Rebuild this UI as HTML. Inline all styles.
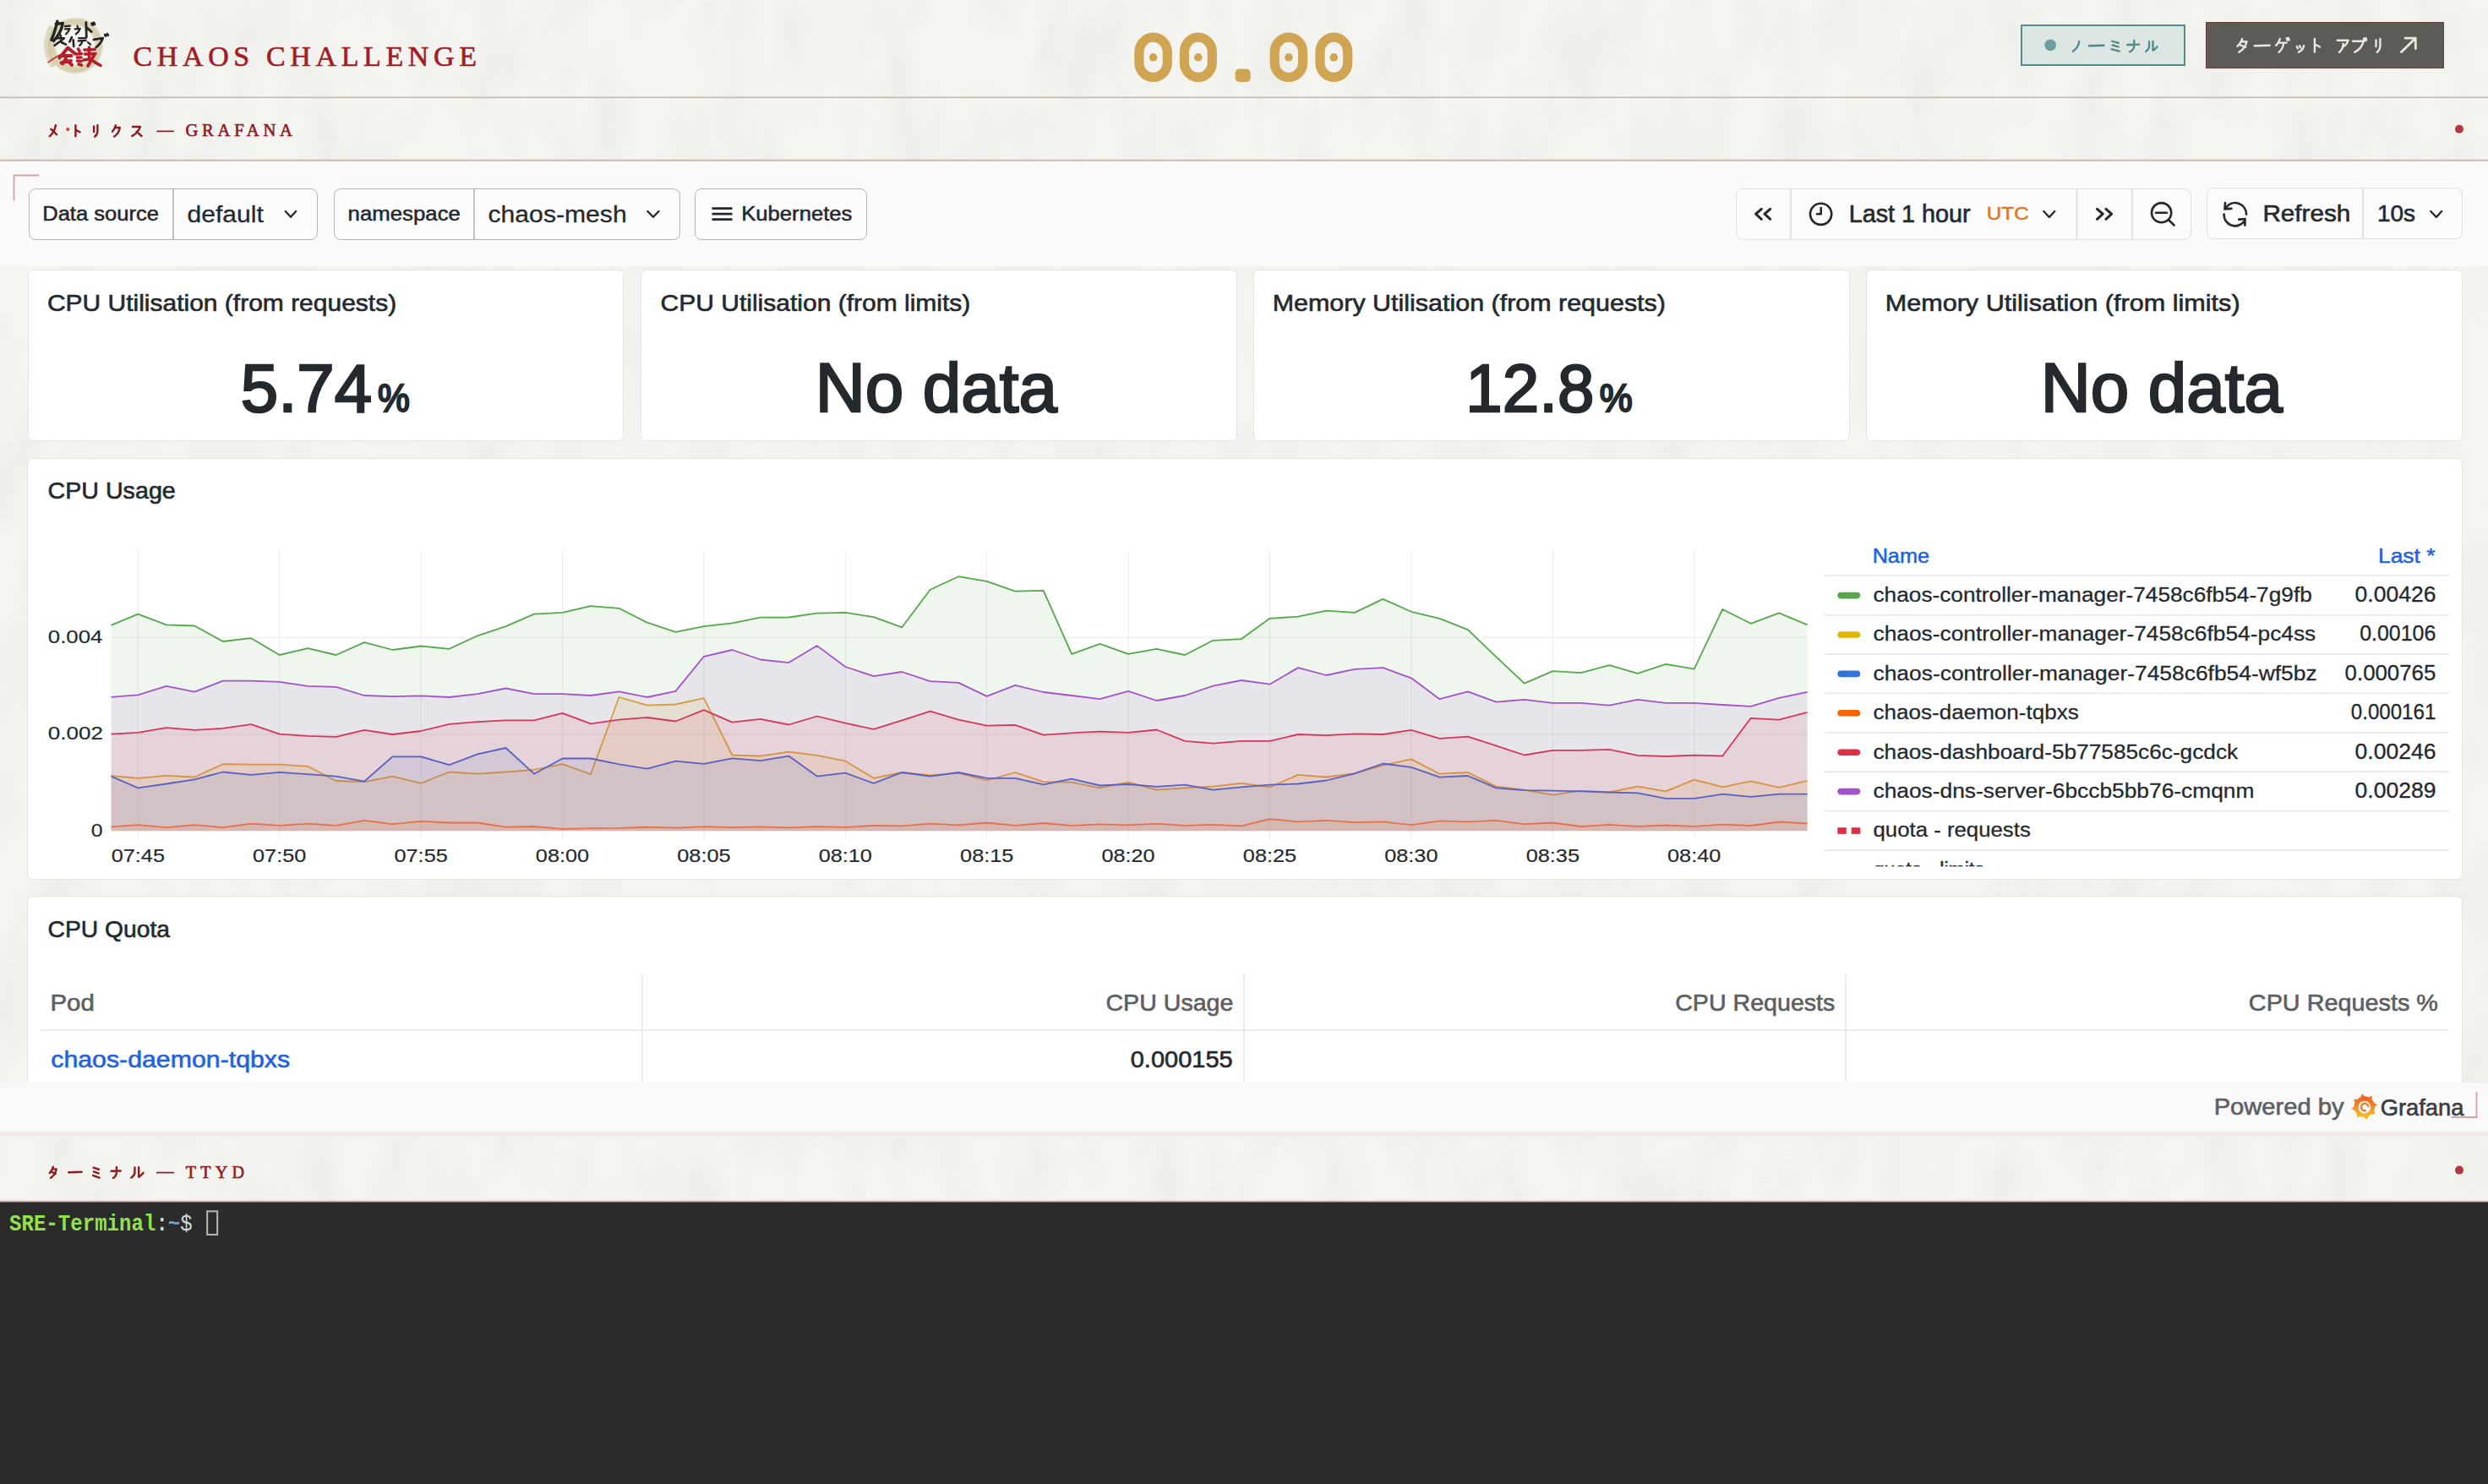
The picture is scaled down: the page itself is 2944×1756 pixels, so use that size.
<!DOCTYPE html>
<html lang="en"><head><meta charset="utf-8"><title>Chaos Challenge</title>
<style>
html,body{margin:0;padding:0}
body{width:2944px;height:1756px;overflow:hidden;position:relative;background:#f4f4f0;font-family:"Liberation Sans",sans-serif}
#ov{position:absolute;left:0;top:0}
</style></head><body>
<svg width="2944" height="1756" style="position:absolute;left:0;top:0"><filter id="paper" x="0" y="0" width="100%" height="100%" filterUnits="userSpaceOnUse"><feTurbulence type="fractalNoise" baseFrequency="0.02 0.008" numOctaves="5" seed="11"/><feColorMatrix values="0 0 0 0 0.45  0 0 0 0 0.45  0 0 0 0 0.43  1.2 0 0 0 -0.45"/></filter><rect x="0" y="0" width="2944" height="1756" filter="url(#paper)" opacity="0.16"/></svg>
<div style="position:absolute;left:0.0px;top:0.0px;width:2944.0px;height:115.0px;background:transparent"></div>
<div style="position:absolute;left:0.0px;top:190.6px;width:2944.0px;height:124.9px;background:#fafafa"></div>
<div style="position:absolute;left:0.0px;top:1280.5px;width:2944.0px;height:58.5px;background:#f9f9f9"></div>
<div style="position:absolute;left:0.0px;top:1339.0px;width:2944.0px;height:7.0px;background:linear-gradient(#f3e7e5,#f4f1ee)"></div>
<div style="position:absolute;left:0.0px;top:1422.4px;width:2944.0px;height:333.6px;background:#2b2b2b"></div>
<div style="position:absolute;left:2390.7px;top:28.5px;width:194.9px;height:49.5px;box-sizing:border-box;border:2.2px solid #4f8e8f;background:#dde6e3"></div>
<div style="position:absolute;left:2610.0px;top:26.4px;width:282.0px;height:54.3px;box-sizing:border-box;border:1.6px solid #6a3d3d;background:#5c5b58"></div>
<div style="position:absolute;left:34.0px;top:222.5px;width:342.0px;height:61.5px;box-sizing:border-box;border:1.6px solid #b4b4b4;border-radius:8px;background:#fbfbfb"></div>
<div style="position:absolute;left:395.2px;top:222.5px;width:410.2px;height:61.5px;box-sizing:border-box;border:1.6px solid #b4b4b4;border-radius:8px;background:#fbfbfb"></div>
<div style="position:absolute;left:822.3px;top:222.5px;width:203.7px;height:61.5px;box-sizing:border-box;border:1.6px solid #b4b4b4;border-radius:8px;background:#fbfbfb"></div>
<div style="position:absolute;left:2054.0px;top:222.8px;width:539.2px;height:61.0px;box-sizing:border-box;border:1.6px solid #dedede;border-radius:8px;background:#fbfbfb"></div>
<div style="position:absolute;left:2610.7px;top:222.4px;width:303.6px;height:60.8px;box-sizing:border-box;border:1.6px solid #dedede;border-radius:8px;background:#fbfbfb"></div>
<div style="position:absolute;left:32.5px;top:318.9px;width:705.8px;height:203.1px;box-sizing:border-box;border:1.4px solid #e4e4e4;border-radius:7px;background:#fff"></div>
<div style="position:absolute;left:758.2px;top:318.9px;width:705.8px;height:203.1px;box-sizing:border-box;border:1.4px solid #e4e4e4;border-radius:7px;background:#fff"></div>
<div style="position:absolute;left:1483.2px;top:318.9px;width:705.8px;height:203.1px;box-sizing:border-box;border:1.4px solid #e4e4e4;border-radius:7px;background:#fff"></div>
<div style="position:absolute;left:2208.2px;top:318.9px;width:705.8px;height:203.1px;box-sizing:border-box;border:1.4px solid #e4e4e4;border-radius:7px;background:#fff"></div>
<div style="position:absolute;left:32.0px;top:541.8px;width:2882.0px;height:498.8px;box-sizing:border-box;border:1.4px solid #e4e4e4;border-radius:7px;background:#fff"></div>
<div style="position:absolute;left:32.0px;top:1060.0px;width:2882.0px;height:220.5px;box-sizing:border-box;border:1.4px solid #e4e4e4;border-bottom:none;border-radius:7px 7px 0 0;background:#fff"></div>
<svg id="ov" width="2944" height="1756" viewBox="0 0 2944 1756">
<rect x="0" y="114.5" width="2944" height="1.6" fill="#d8b0ac"/>
<rect x="0" y="188.8" width="2944" height="1.8" fill="#d6aeb0"/>
<rect x="0" y="1420.6" width="2944" height="1.8" fill="#d9b5b5"/>
<defs><radialGradient id="lg" cx="0.5" cy="0.5" r="0.5"><stop offset="0.6" stop-color="#f5f4ee" stop-opacity="0"/><stop offset="0.74" stop-color="#d2cba6" stop-opacity="0.85"/><stop offset="0.92" stop-color="#cfc7a0" stop-opacity="0.8"/><stop offset="1" stop-color="#d8d2b4" stop-opacity="0"/></radialGradient></defs>
<g>
<circle cx="88.8" cy="54" r="34" fill="url(#lg)"/>
<path d="M62 76 Q50 56 60 34" stroke="#c8c09a" stroke-width="7" fill="none" opacity="0.5" stroke-linecap="round"/>
<g stroke="#26221f" fill="none" stroke-linecap="round" stroke-linejoin="round">
<path d="M67.8 25.2 Q65 38 60.8 47.3 M66.2 28.5 L74.3 27.4 Q72 40 63.5 48.4" stroke-width="3.4"/>
<path d="M77 31.2 L82.9 30.6 M77 34.4 L82.5 34.2 Q81 38 78 40.3" stroke-width="2.2"/>
<path d="M91.5 30.6 L91.8 32.4 M88.8 34.4 L94.7 33.9 Q93.5 38 89.9 40.3" stroke-width="2.2"/>
<path d="M101.8 26.3 L102.3 44.1 M102.8 32.8 L108.2 37.6 M108.6 27.6 L109.6 29.6 M111 26.8 L112 28.8" stroke-width="2.8"/>
<path d="M71.6 41.8 L72 43 M66.2 45.2 L75.9 45.2 L64.6 53.8 M72.6 50 L78 52.7" stroke-width="2.6"/>
<path d="M85 44.1 L82.3 49.5 M86.7 47.3 L87.2 54.9" stroke-width="2.6"/>
<path d="M93.1 45.2 L101.2 45.2 M92.6 48.4 L101.8 47.9 M97.4 48.4 Q97 52 94.2 53.8 M103.9 50 L107.1 52.7" stroke-width="2.2"/>
<path d="M110.9 46.8 L121.7 45.2 Q119 52 113.6 56 M124.2 41 L125 42.6 M127 40.2 L127.8 41.8" stroke-width="2.8"/>
</g>
<g stroke="#b51e29" fill="none" stroke-linecap="round" stroke-linejoin="round">
<path d="M80.2 56.5 L70.5 68.5 M80.2 56.5 L88.8 63.5 M75 66 L84.5 66 M72.6 74.3 L84 72 M78 69 L74 75.5 M80 72 L85 76.8" stroke-width="4"/>
<path d="M92.5 58 L94 60.5 M91 64 L96.5 63.5 M91.5 68 L96 68 M91.5 72 L96 72.5 M93 76 L96.5 77 M100 59 L112 58.5 M100.5 64 L113 63.5 M105.5 56 L105.5 70 M99 71 Q106 69 110 72 Q114 75 119 77.5 M112 64 L104 78" stroke-width="3.6"/>
</g>
<path d="M56.5 74.3 Q67 66 78 62" stroke="#b51e29" stroke-width="1.4" fill="none"/>
</g>
<rect x="1347.9" y="44.2" width="33.4" height="47.2" rx="16.7" ry="17.5" fill="none" stroke="#cfa553" stroke-width="11.2"/>
<circle cx="1364.6" cy="67.8" r="4.8" fill="#cfa553"/>
<rect x="1401.4" y="44.2" width="32.9" height="47.2" rx="16.5" ry="17.3" fill="none" stroke="#cfa553" stroke-width="11.2"/>
<circle cx="1417.8" cy="67.8" r="4.8" fill="#cfa553"/>
<rect x="1508.2" y="44.2" width="33.4" height="47.2" rx="16.7" ry="17.5" fill="none" stroke="#cfa553" stroke-width="11.2"/>
<circle cx="1524.9" cy="67.8" r="4.8" fill="#cfa553"/>
<rect x="1562.0" y="44.2" width="32.7" height="47.2" rx="16.3" ry="17.2" fill="none" stroke="#cfa553" stroke-width="11.2"/>
<circle cx="1578.3" cy="67.8" r="4.8" fill="#cfa553"/>
<rect x="1461.6" y="81.5" width="18.1" height="15.5" rx="5" fill="#cfa553"/>
<circle cx="2426.2" cy="53.4" r="6.8" fill="#6d9e9d"/>
<path transform="translate(2450.30 47.70) scale(0.1380 0.1380)" d="M72 8 Q66 62 18 94" fill="none" stroke="#4f8a8a" stroke-width="2.30" stroke-linecap="round" stroke-linejoin="round" vector-effect="non-scaling-stroke"/>
<path transform="translate(2470.50 48.00) scale(0.2030 0.1200)" d="M6 52 L94 48" fill="none" stroke="#4f8a8a" stroke-width="2.30" stroke-linecap="round" stroke-linejoin="round" vector-effect="non-scaling-stroke"/>
<path transform="translate(2496.00 47.00) scale(0.1400 0.1450)" d="M22 12 L78 26 M26 44 L76 58 M18 76 L84 94" fill="none" stroke="#4f8a8a" stroke-width="2.30" stroke-linecap="round" stroke-linejoin="round" vector-effect="non-scaling-stroke"/>
<path transform="translate(2516.30 47.00) scale(0.1600 0.1500)" d="M6 40 L94 38 M56 6 L56 50 Q54 82 24 96" fill="none" stroke="#4f8a8a" stroke-width="2.30" stroke-linecap="round" stroke-linejoin="round" vector-effect="non-scaling-stroke"/>
<path transform="translate(2537.60 47.70) scale(0.1600 0.1380)" d="M34 10 L34 56 Q30 80 10 94 M62 8 L62 88 Q78 78 94 54" fill="none" stroke="#4f8a8a" stroke-width="2.30" stroke-linecap="round" stroke-linejoin="round" vector-effect="non-scaling-stroke"/>
<path transform="translate(2646.30 45.00) scale(0.1490 0.1750)" d="M46 6 Q36 32 8 56 M40 24 L82 24 Q70 70 20 96 M32 48 L72 62" fill="none" stroke="#ebe7dc" stroke-width="2.40" stroke-linecap="round" stroke-linejoin="round" vector-effect="non-scaling-stroke"/>
<path transform="translate(2666.50 48.00) scale(0.2030 0.1200)" d="M6 52 L94 48" fill="none" stroke="#ebe7dc" stroke-width="2.40" stroke-linecap="round" stroke-linejoin="round" vector-effect="non-scaling-stroke"/>
<path transform="translate(2692.10 44.50) scale(0.1700 0.1800)" d="M34 8 Q26 34 6 52 M28 34 L80 34 M58 34 Q58 74 26 96 M80 4 L86 18 M92 2 L98 16" fill="none" stroke="#ebe7dc" stroke-width="2.40" stroke-linecap="round" stroke-linejoin="round" vector-effect="non-scaling-stroke"/>
<path transform="translate(2714.50 49.00) scale(0.1490 0.1350)" d="M22 44 L30 62 M44 38 L52 56 M78 36 Q74 76 36 94" fill="none" stroke="#ebe7dc" stroke-width="2.40" stroke-linecap="round" stroke-linejoin="round" vector-effect="non-scaling-stroke"/>
<path transform="translate(2733.60 45.00) scale(0.1390 0.1750)" d="M38 6 L38 94 M38 42 L82 60" fill="none" stroke="#ebe7dc" stroke-width="2.40" stroke-linecap="round" stroke-linejoin="round" vector-effect="non-scaling-stroke"/>
<path transform="translate(2764.50 45.00) scale(0.1600 0.1750)" d="M8 16 L88 16 Q80 42 56 56 M50 38 Q52 74 22 96" fill="none" stroke="#ebe7dc" stroke-width="2.40" stroke-linecap="round" stroke-linejoin="round" vector-effect="non-scaling-stroke"/>
<path transform="translate(2782.60 44.50) scale(0.1810 0.1800)" d="M8 24 L78 24 Q68 70 20 96 M88 12 m-8 0 a8 8 0 1 0 16 0 a8 8 0 1 0 -16 0" fill="none" stroke="#ebe7dc" stroke-width="2.40" stroke-linecap="round" stroke-linejoin="round" vector-effect="non-scaling-stroke"/>
<path transform="translate(2808.20 45.00) scale(0.1170 0.1750)" d="M28 14 L28 58 M70 6 L70 54 Q66 84 38 96" fill="none" stroke="#ebe7dc" stroke-width="2.40" stroke-linecap="round" stroke-linejoin="round" vector-effect="non-scaling-stroke"/>
<path d="M2841.5 61.5 L2858 45.5 M2846 45.2 L2858.3 45.2 L2858.3 57.5" stroke="#ebe7dc" stroke-width="2.8" fill="none" stroke-linecap="round" stroke-linejoin="round"/>
<path transform="translate(57.40 147.40) scale(0.1120 0.1480)" d="M76 6 Q64 60 12 94 M26 36 Q60 56 86 80" fill="none" stroke="#8e1b1f" stroke-width="2.40" stroke-linecap="round" stroke-linejoin="round" vector-effect="non-scaling-stroke"/>
<path transform="translate(85.00 147.40) scale(0.1160 0.1480)" d="M38 6 L38 94 M38 42 L82 60" fill="none" stroke="#8e1b1f" stroke-width="2.40" stroke-linecap="round" stroke-linejoin="round" vector-effect="non-scaling-stroke"/>
<path transform="translate(108.20 147.40) scale(0.1030 0.1480)" d="M28 14 L28 58 M70 6 L70 54 Q66 84 38 96" fill="none" stroke="#8e1b1f" stroke-width="2.40" stroke-linecap="round" stroke-linejoin="round" vector-effect="non-scaling-stroke"/>
<path transform="translate(132.00 147.40) scale(0.1220 0.1480)" d="M40 6 Q30 34 8 56 M34 24 L80 24 Q72 72 26 96" fill="none" stroke="#8e1b1f" stroke-width="2.40" stroke-linecap="round" stroke-linejoin="round" vector-effect="non-scaling-stroke"/>
<path transform="translate(155.10 147.40) scale(0.1350 0.1480)" d="M14 18 L80 18 Q62 64 8 92 M48 56 L92 92" fill="none" stroke="#8e1b1f" stroke-width="2.40" stroke-linecap="round" stroke-linejoin="round" vector-effect="non-scaling-stroke"/>
<circle cx="80.2" cy="153" r="2" fill="#e0302a"/>
<rect x="185.3" y="154.5" width="20.6" height="1.7" fill="#8e1b1f"/>
<circle cx="2910" cy="152.7" r="5" fill="#b03a40"/>
<path transform="translate(57.90 1379.90) scale(0.1080 0.1450)" d="M46 6 Q36 32 8 56 M40 24 L82 24 Q70 70 20 96 M32 48 L72 62" fill="none" stroke="#8e1b1f" stroke-width="2.40" stroke-linecap="round" stroke-linejoin="round" vector-effect="non-scaling-stroke"/>
<path transform="translate(80.20 1381.00) scale(0.1750 0.1200)" d="M6 52 L94 48" fill="none" stroke="#8e1b1f" stroke-width="2.40" stroke-linecap="round" stroke-linejoin="round" vector-effect="non-scaling-stroke"/>
<path transform="translate(108.00 1380.00) scale(0.1140 0.1440)" d="M22 12 L78 26 M26 44 L76 58 M18 76 L84 94" fill="none" stroke="#8e1b1f" stroke-width="2.40" stroke-linecap="round" stroke-linejoin="round" vector-effect="non-scaling-stroke"/>
<path transform="translate(130.80 1380.00) scale(0.1270 0.1440)" d="M6 40 L94 38 M56 6 L56 50 Q54 82 24 96" fill="none" stroke="#8e1b1f" stroke-width="2.40" stroke-linecap="round" stroke-linejoin="round" vector-effect="non-scaling-stroke"/>
<path transform="translate(153.70 1380.00) scale(0.1690 0.1440)" d="M34 10 L34 56 Q30 80 10 94 M62 8 L62 88 Q78 78 94 54" fill="none" stroke="#8e1b1f" stroke-width="2.40" stroke-linecap="round" stroke-linejoin="round" vector-effect="non-scaling-stroke"/>
<rect x="185" y="1386.7" width="21" height="1.7" fill="#8e1b1f"/>
<circle cx="2910" cy="1384.6" r="5" fill="#b03a40"/>
<rect x="204.2" y="222.5" width="1.6" height="61.5" fill="#b4b4b4"/>
<path d="M337.8 250.0 L344.0 256.8 L350.2 250.0" stroke="#24292e" stroke-width="2.3" fill="none" stroke-linecap="round" stroke-linejoin="round"/>
<rect x="560.2" y="222.5" width="1.6" height="61.5" fill="#b4b4b4"/>
<path d="M766.3 250.0 L772.9 256.8 L779.5 250.0" stroke="#24292e" stroke-width="2.3" fill="none" stroke-linecap="round" stroke-linejoin="round"/>
<path d="M842.5 246.6 H866.5 M842.5 253.1 H866.5 M842.5 259.6 H866.5" stroke="#24292e" stroke-width="2.6"/>
<rect x="2118.0" y="222.8" width="1.6" height="61" fill="#dedede"/>
<rect x="2456.7" y="222.8" width="1.6" height="61" fill="#dedede"/>
<rect x="2522.0" y="222.8" width="1.6" height="61" fill="#dedede"/>
<path d="M2084.3 247.3 L2077.6 253.2 L2084.3 259.3 M2094.7 247.3 L2088 253.2 L2094.7 259.3" stroke="#24292e" stroke-width="3" fill="none" stroke-linecap="round" stroke-linejoin="round"/>
<circle cx="2154.6" cy="253.3" r="12.6" stroke="#24292e" stroke-width="2.6" fill="none"/><path d="M2154.7 246 V253.3 H2150" stroke="#24292e" stroke-width="2.6" fill="none" stroke-linecap="round" stroke-linejoin="round"/>
<path d="M2418.3 250.0 L2424.8 257.0 L2431.3 250.0" stroke="#24292e" stroke-width="2.3" fill="none" stroke-linecap="round" stroke-linejoin="round"/>
<path d="M2481.5 247.3 L2488.2 253.2 L2481.5 259.3 M2491.9 247.3 L2498.6 253.2 L2491.9 259.3" stroke="#24292e" stroke-width="3" fill="none" stroke-linecap="round" stroke-linejoin="round"/>
<circle cx="2557.6" cy="251.7" r="11.6" stroke="#24292e" stroke-width="2.6" fill="none"/><path d="M2551 251.7 H2564 M2566.2 260.3 L2572.5 266.5" stroke="#24292e" stroke-width="2.6" fill="none" stroke-linecap="round"/>
<rect x="2795" y="222.4" width="1.6" height="60.8" fill="#dedede"/>
<path d="M2658 253.6 A13.2 13.2 0 0 0 2634.6 245 M2631.6 253.6 A13.2 13.2 0 0 0 2655 262.5" stroke="#24292e" stroke-width="2.7" fill="none" stroke-linecap="round"/><path d="M2633 240 L2632.6 247.2 L2640.4 246.8 M2649.2 259.6 L2656.4 259.2 L2656.4 266.6" stroke="#24292e" stroke-width="2.7" fill="none" stroke-linecap="round" stroke-linejoin="miter"/>
<path d="M2876.3 250.0 L2882.8 257.0 L2889.2 250.0" stroke="#24292e" stroke-width="2.3" fill="none" stroke-linecap="round" stroke-linejoin="round"/>
<path d="M16.5 237.5 V207.5 H46.5" stroke="#d2a3a3" stroke-width="1.8" fill="none"/>
<path d="M2900.5 1322 H2930.5 V1292" stroke="#d2a3a3" stroke-width="1.8" fill="none"/>
<rect x="131.6" y="753.9" width="2007.4" height="1" fill="#ebebeb"/>
<rect x="131.6" y="868.4" width="2007.4" height="1" fill="#ebebeb"/>
<rect x="162.80" y="651" width="1" height="340.5" fill="#ebebeb"/>
<rect x="330.20" y="651" width="1" height="340.5" fill="#ebebeb"/>
<rect x="497.60" y="651" width="1" height="340.5" fill="#ebebeb"/>
<rect x="665.00" y="651" width="1" height="340.5" fill="#ebebeb"/>
<rect x="832.40" y="651" width="1" height="340.5" fill="#ebebeb"/>
<rect x="999.80" y="651" width="1" height="340.5" fill="#ebebeb"/>
<rect x="1167.20" y="651" width="1" height="340.5" fill="#ebebeb"/>
<rect x="1334.60" y="651" width="1" height="340.5" fill="#ebebeb"/>
<rect x="1502.00" y="651" width="1" height="340.5" fill="#ebebeb"/>
<rect x="1669.40" y="651" width="1" height="340.5" fill="#ebebeb"/>
<rect x="1836.80" y="651" width="1" height="340.5" fill="#ebebeb"/>
<rect x="2004.20" y="651" width="1" height="340.5" fill="#ebebeb"/>
<defs><clipPath id="pc"><rect x="131.6" y="600" width="2007.4" height="383.5"/></clipPath></defs>
<g clip-path="url(#pc)">
<path d="M129.8 740.5 L163.3 726.7 L196.8 739.4 L230.3 740.5 L263.7 759.0 L297.2 755.2 L330.7 775.0 L364.2 767.2 L397.7 775.0 L431.1 760.1 L464.6 769.0 L498.1 764.5 L531.6 767.8 L565.1 752.3 L598.5 741.2 L632.0 726.7 L665.5 724.9 L699.0 717.1 L732.5 719.8 L765.9 736.7 L799.4 747.8 L832.9 741.2 L866.4 737.4 L899.9 730.7 L933.3 730.5 L966.8 725.6 L1000.3 724.9 L1033.8 730.1 L1067.3 742.3 L1100.7 697.8 L1134.2 682.2 L1167.7 687.8 L1201.2 699.6 L1234.7 698.9 L1268.1 773.9 L1301.6 761.9 L1335.1 773.9 L1368.6 767.9 L1402.1 775.0 L1435.5 757.8 L1469.0 756.1 L1502.5 731.8 L1536.0 729.6 L1569.5 722.7 L1602.9 724.9 L1636.4 708.9 L1669.9 723.8 L1703.4 731.8 L1736.9 745.2 L1770.3 777.2 L1803.8 808.6 L1837.3 794.1 L1870.8 796.1 L1904.3 787.2 L1937.7 796.9 L1971.2 785.9 L2004.7 791.7 L2038.2 721.0 L2071.7 737.8 L2105.1 725.4 L2138.6 739.4 L2138.6 983.5 L129.8 983.5 Z" fill="#56a64b" fill-opacity="0.1"/>
<path d="M129.8 740.5 L163.3 726.7 L196.8 739.4 L230.3 740.5 L263.7 759.0 L297.2 755.2 L330.7 775.0 L364.2 767.2 L397.7 775.0 L431.1 760.1 L464.6 769.0 L498.1 764.5 L531.6 767.8 L565.1 752.3 L598.5 741.2 L632.0 726.7 L665.5 724.9 L699.0 717.1 L732.5 719.8 L765.9 736.7 L799.4 747.8 L832.9 741.2 L866.4 737.4 L899.9 730.7 L933.3 730.5 L966.8 725.6 L1000.3 724.9 L1033.8 730.1 L1067.3 742.3 L1100.7 697.8 L1134.2 682.2 L1167.7 687.8 L1201.2 699.6 L1234.7 698.9 L1268.1 773.9 L1301.6 761.9 L1335.1 773.9 L1368.6 767.9 L1402.1 775.0 L1435.5 757.8 L1469.0 756.1 L1502.5 731.8 L1536.0 729.6 L1569.5 722.7 L1602.9 724.9 L1636.4 708.9 L1669.9 723.8 L1703.4 731.8 L1736.9 745.2 L1770.3 777.2 L1803.8 808.6 L1837.3 794.1 L1870.8 796.1 L1904.3 787.2 L1937.7 796.9 L1971.2 785.9 L2004.7 791.7 L2038.2 721.0 L2071.7 737.8 L2105.1 725.4 L2138.6 739.4" fill="none" stroke="#56a64b" stroke-width="1.8" stroke-linejoin="round"/>
<path d="M129.8 917.9 L163.3 920.8 L196.8 917.9 L230.3 919.5 L263.7 904.2 L297.2 904.6 L330.7 904.6 L364.2 906.8 L397.7 924.0 L431.1 925.1 L464.6 918.6 L498.1 926.8 L531.6 913.5 L565.1 915.7 L598.5 913.5 L632.0 910.8 L665.5 904.2 L699.0 916.2 L732.5 825.0 L765.9 834.6 L799.4 833.5 L832.9 826.1 L866.4 893.5 L899.9 894.6 L933.3 889.7 L966.8 893.9 L1000.3 900.6 L1033.8 920.8 L1067.3 914.0 L1100.7 917.5 L1134.2 914.6 L1167.7 923.5 L1201.2 914.0 L1234.7 925.1 L1268.1 925.7 L1301.6 932.4 L1335.1 925.7 L1368.6 934.6 L1402.1 932.4 L1435.5 930.6 L1469.0 926.9 L1502.5 931.3 L1536.0 916.8 L1569.5 919.5 L1602.9 915.1 L1636.4 905.7 L1669.9 898.4 L1703.4 915.7 L1736.9 914.0 L1770.3 930.6 L1803.8 934.6 L1837.3 940.6 L1870.8 935.7 L1904.3 937.5 L1937.7 930.6 L1971.2 936.3 L2004.7 922.6 L2038.2 931.3 L2071.7 924.4 L2105.1 931.8 L2138.6 923.9 L2138.6 983.5 L129.8 983.5 Z" fill="#e0b400" fill-opacity="0.1"/>
<path d="M129.8 917.9 L163.3 920.8 L196.8 917.9 L230.3 919.5 L263.7 904.2 L297.2 904.6 L330.7 904.6 L364.2 906.8 L397.7 924.0 L431.1 925.1 L464.6 918.6 L498.1 926.8 L531.6 913.5 L565.1 915.7 L598.5 913.5 L632.0 910.8 L665.5 904.2 L699.0 916.2 L732.5 825.0 L765.9 834.6 L799.4 833.5 L832.9 826.1 L866.4 893.5 L899.9 894.6 L933.3 889.7 L966.8 893.9 L1000.3 900.6 L1033.8 920.8 L1067.3 914.0 L1100.7 917.5 L1134.2 914.6 L1167.7 923.5 L1201.2 914.0 L1234.7 925.1 L1268.1 925.7 L1301.6 932.4 L1335.1 925.7 L1368.6 934.6 L1402.1 932.4 L1435.5 930.6 L1469.0 926.9 L1502.5 931.3 L1536.0 916.8 L1569.5 919.5 L1602.9 915.1 L1636.4 905.7 L1669.9 898.4 L1703.4 915.7 L1736.9 914.0 L1770.3 930.6 L1803.8 934.6 L1837.3 940.6 L1870.8 935.7 L1904.3 937.5 L1937.7 930.6 L1971.2 936.3 L2004.7 922.6 L2038.2 931.3 L2071.7 924.4 L2105.1 931.8 L2138.6 923.9" fill="none" stroke="#dca62e" stroke-width="1.8" stroke-linejoin="round"/>
<path d="M129.8 917.9 L163.3 932.4 L196.8 927.5 L230.3 922.4 L263.7 913.5 L297.2 916.8 L330.7 913.9 L364.2 916.2 L397.7 918.6 L431.1 924.6 L464.6 895.3 L498.1 895.3 L531.6 905.1 L565.1 892.4 L598.5 885.0 L632.0 915.7 L665.5 897.5 L699.0 897.5 L732.5 904.4 L765.9 909.7 L799.4 900.6 L832.9 903.9 L866.4 897.3 L899.9 900.2 L933.3 894.6 L966.8 918.6 L1000.3 914.6 L1033.8 926.9 L1067.3 914.0 L1100.7 918.6 L1134.2 914.0 L1167.7 920.8 L1201.2 920.8 L1234.7 928.4 L1268.1 921.7 L1301.6 929.5 L1335.1 928.0 L1368.6 930.9 L1402.1 928.6 L1435.5 934.6 L1469.0 931.3 L1502.5 928.6 L1536.0 927.5 L1569.5 923.5 L1602.9 915.3 L1636.4 903.5 L1669.9 907.9 L1703.4 919.7 L1736.9 918.0 L1770.3 932.4 L1803.8 935.1 L1837.3 935.7 L1870.8 936.4 L1904.3 937.5 L1937.7 938.4 L1971.2 944.9 L2004.7 944.9 L2038.2 939.7 L2071.7 942.8 L2105.1 939.7 L2138.6 939.7 L2138.6 983.5 L129.8 983.5 Z" fill="#3274d9" fill-opacity="0.1"/>
<path d="M129.8 917.9 L163.3 932.4 L196.8 927.5 L230.3 922.4 L263.7 913.5 L297.2 916.8 L330.7 913.9 L364.2 916.2 L397.7 918.6 L431.1 924.6 L464.6 895.3 L498.1 895.3 L531.6 905.1 L565.1 892.4 L598.5 885.0 L632.0 915.7 L665.5 897.5 L699.0 897.5 L732.5 904.4 L765.9 909.7 L799.4 900.6 L832.9 903.9 L866.4 897.3 L899.9 900.2 L933.3 894.6 L966.8 918.6 L1000.3 914.6 L1033.8 926.9 L1067.3 914.0 L1100.7 918.6 L1134.2 914.0 L1167.7 920.8 L1201.2 920.8 L1234.7 928.4 L1268.1 921.7 L1301.6 929.5 L1335.1 928.0 L1368.6 930.9 L1402.1 928.6 L1435.5 934.6 L1469.0 931.3 L1502.5 928.6 L1536.0 927.5 L1569.5 923.5 L1602.9 915.3 L1636.4 903.5 L1669.9 907.9 L1703.4 919.7 L1736.9 918.0 L1770.3 932.4 L1803.8 935.1 L1837.3 935.7 L1870.8 936.4 L1904.3 937.5 L1937.7 938.4 L1971.2 944.9 L2004.7 944.9 L2038.2 939.7 L2071.7 942.8 L2105.1 939.7 L2138.6 939.7" fill="none" stroke="#4069d2" stroke-width="1.8" stroke-linejoin="round"/>
<path d="M129.8 978.4 L163.3 976.2 L196.8 979.1 L230.3 976.2 L263.7 979.1 L297.2 974.7 L330.7 976.9 L364.2 974.7 L397.7 976.9 L431.1 970.9 L464.6 975.1 L498.1 971.8 L531.6 973.5 L565.1 973.5 L598.5 978.7 L632.0 978.0 L665.5 980.9 L699.0 980.2 L732.5 979.9 L765.9 978.7 L799.4 979.6 L832.9 978.2 L866.4 979.1 L899.9 978.4 L933.3 979.3 L966.8 978.2 L1000.3 978.9 L1033.8 976.9 L1067.3 977.3 L1100.7 974.7 L1134.2 976.4 L1167.7 973.5 L1201.2 976.9 L1234.7 974.0 L1268.1 976.9 L1301.6 975.3 L1335.1 976.4 L1368.6 974.7 L1402.1 976.9 L1435.5 975.8 L1469.0 977.3 L1502.5 969.1 L1536.0 972.4 L1569.5 970.9 L1602.9 973.1 L1636.4 972.4 L1669.9 976.2 L1703.4 971.3 L1736.9 972.4 L1770.3 970.9 L1803.8 975.1 L1837.3 973.5 L1870.8 978.0 L1904.3 975.8 L1937.7 977.9 L1971.2 976.5 L2004.7 977.8 L2038.2 975.7 L2071.7 977.0 L2105.1 972.5 L2138.6 974.4 L2138.6 983.5 L129.8 983.5 Z" fill="#fa6400" fill-opacity="0.1"/>
<path d="M129.8 978.4 L163.3 976.2 L196.8 979.1 L230.3 976.2 L263.7 979.1 L297.2 974.7 L330.7 976.9 L364.2 974.7 L397.7 976.9 L431.1 970.9 L464.6 975.1 L498.1 971.8 L531.6 973.5 L565.1 973.5 L598.5 978.7 L632.0 978.0 L665.5 980.9 L699.0 980.2 L732.5 979.9 L765.9 978.7 L799.4 979.6 L832.9 978.2 L866.4 979.1 L899.9 978.4 L933.3 979.3 L966.8 978.2 L1000.3 978.9 L1033.8 976.9 L1067.3 977.3 L1100.7 974.7 L1134.2 976.4 L1167.7 973.5 L1201.2 976.9 L1234.7 974.0 L1268.1 976.9 L1301.6 975.3 L1335.1 976.4 L1368.6 974.7 L1402.1 976.9 L1435.5 975.8 L1469.0 977.3 L1502.5 969.1 L1536.0 972.4 L1569.5 970.9 L1602.9 973.1 L1636.4 972.4 L1669.9 976.2 L1703.4 971.3 L1736.9 972.4 L1770.3 970.9 L1803.8 975.1 L1837.3 973.5 L1870.8 978.0 L1904.3 975.8 L1937.7 977.9 L1971.2 976.5 L2004.7 977.8 L2038.2 975.7 L2071.7 977.0 L2105.1 972.5 L2138.6 974.4" fill="none" stroke="#f47a38" stroke-width="1.8" stroke-linejoin="round"/>
<path d="M129.8 868.6 L163.3 866.8 L196.8 861.2 L230.3 863.9 L263.7 861.9 L297.2 857.2 L330.7 868.6 L364.2 870.8 L397.7 871.9 L431.1 863.9 L464.6 869.0 L498.1 865.0 L531.6 856.8 L565.1 854.1 L598.5 852.4 L632.0 852.4 L665.5 843.9 L699.0 856.4 L732.5 851.7 L765.9 849.0 L799.4 853.5 L832.9 840.1 L866.4 854.6 L899.9 850.8 L933.3 857.5 L966.8 847.5 L1000.3 855.7 L1033.8 862.9 L1067.3 852.4 L1100.7 841.7 L1134.2 851.7 L1167.7 858.6 L1201.2 857.9 L1234.7 869.7 L1268.1 867.3 L1301.6 865.7 L1335.1 866.8 L1368.6 863.5 L1402.1 876.8 L1435.5 879.7 L1469.0 876.8 L1502.5 876.8 L1536.0 869.0 L1569.5 870.1 L1602.9 868.4 L1636.4 869.0 L1669.9 863.9 L1703.4 873.9 L1736.9 871.7 L1770.3 882.4 L1803.8 893.5 L1837.3 887.9 L1870.8 887.9 L1904.3 886.8 L1937.7 893.8 L1971.2 895.0 L2004.7 893.7 L2038.2 894.5 L2071.7 849.8 L2105.1 851.6 L2138.6 842.9 L2138.6 983.5 L129.8 983.5 Z" fill="#e02f44" fill-opacity="0.1"/>
<path d="M129.8 868.6 L163.3 866.8 L196.8 861.2 L230.3 863.9 L263.7 861.9 L297.2 857.2 L330.7 868.6 L364.2 870.8 L397.7 871.9 L431.1 863.9 L464.6 869.0 L498.1 865.0 L531.6 856.8 L565.1 854.1 L598.5 852.4 L632.0 852.4 L665.5 843.9 L699.0 856.4 L732.5 851.7 L765.9 849.0 L799.4 853.5 L832.9 840.1 L866.4 854.6 L899.9 850.8 L933.3 857.5 L966.8 847.5 L1000.3 855.7 L1033.8 862.9 L1067.3 852.4 L1100.7 841.7 L1134.2 851.7 L1167.7 858.6 L1201.2 857.9 L1234.7 869.7 L1268.1 867.3 L1301.6 865.7 L1335.1 866.8 L1368.6 863.5 L1402.1 876.8 L1435.5 879.7 L1469.0 876.8 L1502.5 876.8 L1536.0 869.0 L1569.5 870.1 L1602.9 868.4 L1636.4 869.0 L1669.9 863.9 L1703.4 873.9 L1736.9 871.7 L1770.3 882.4 L1803.8 893.5 L1837.3 887.9 L1870.8 887.9 L1904.3 886.8 L1937.7 893.8 L1971.2 895.0 L2004.7 893.7 L2038.2 894.5 L2071.7 849.8 L2105.1 851.6 L2138.6 842.9" fill="none" stroke="#dc3350" stroke-width="1.8" stroke-linejoin="round"/>
<path d="M129.8 825.0 L163.3 822.3 L196.8 811.9 L230.3 818.6 L263.7 805.7 L297.2 805.7 L330.7 806.8 L364.2 811.9 L397.7 812.8 L431.1 823.0 L464.6 824.1 L498.1 823.4 L531.6 825.0 L565.1 821.2 L598.5 814.5 L632.0 821.2 L665.5 821.2 L699.0 823.0 L732.5 818.4 L765.9 825.0 L799.4 817.9 L832.9 776.8 L866.4 769.0 L899.9 780.5 L933.3 784.1 L966.8 764.1 L1000.3 789.0 L1033.8 800.1 L1067.3 795.0 L1100.7 806.1 L1134.2 807.9 L1167.7 823.9 L1201.2 810.8 L1234.7 819.0 L1268.1 823.0 L1301.6 827.2 L1335.1 817.9 L1368.6 829.0 L1402.1 823.0 L1435.5 811.7 L1469.0 805.0 L1502.5 809.7 L1536.0 790.1 L1569.5 799.0 L1602.9 791.9 L1636.4 790.1 L1669.9 802.3 L1703.4 827.2 L1736.9 818.3 L1770.3 830.6 L1803.8 827.9 L1837.3 831.9 L1870.8 831.9 L1904.3 834.6 L1937.7 827.9 L1971.2 831.9 L2004.7 831.9 L2038.2 834.0 L2071.7 835.8 L2105.1 825.9 L2138.6 818.8 L2138.6 983.5 L129.8 983.5 Z" fill="#a352cc" fill-opacity="0.1"/>
<path d="M129.8 825.0 L163.3 822.3 L196.8 811.9 L230.3 818.6 L263.7 805.7 L297.2 805.7 L330.7 806.8 L364.2 811.9 L397.7 812.8 L431.1 823.0 L464.6 824.1 L498.1 823.4 L531.6 825.0 L565.1 821.2 L598.5 814.5 L632.0 821.2 L665.5 821.2 L699.0 823.0 L732.5 818.4 L765.9 825.0 L799.4 817.9 L832.9 776.8 L866.4 769.0 L899.9 780.5 L933.3 784.1 L966.8 764.1 L1000.3 789.0 L1033.8 800.1 L1067.3 795.0 L1100.7 806.1 L1134.2 807.9 L1167.7 823.9 L1201.2 810.8 L1234.7 819.0 L1268.1 823.0 L1301.6 827.2 L1335.1 817.9 L1368.6 829.0 L1402.1 823.0 L1435.5 811.7 L1469.0 805.0 L1502.5 809.7 L1536.0 790.1 L1569.5 799.0 L1602.9 791.9 L1636.4 790.1 L1669.9 802.3 L1703.4 827.2 L1736.9 818.3 L1770.3 830.6 L1803.8 827.9 L1837.3 831.9 L1870.8 831.9 L1904.3 834.6 L1937.7 827.9 L1971.2 831.9 L2004.7 831.9 L2038.2 834.0 L2071.7 835.8 L2105.1 825.9 L2138.6 818.8" fill="none" stroke="#a352cc" stroke-width="1.8" stroke-linejoin="round"/>
</g>
<defs><clipPath id="lc"><rect x="2150" y="600" width="760" height="427"/></clipPath></defs><g clip-path="url(#lc)">
<rect x="2158.3" y="680.3" width="739.7" height="1.6" fill="#e8e8e8"/>
<rect x="2158.3" y="727.0" width="739.7" height="1.6" fill="#e8e8e8"/>
<rect x="2158.3" y="773.4" width="739.7" height="1.6" fill="#e8e8e8"/>
<rect x="2158.3" y="819.6" width="739.7" height="1.6" fill="#e8e8e8"/>
<rect x="2158.3" y="866.2" width="739.7" height="1.6" fill="#e8e8e8"/>
<rect x="2158.3" y="912.5" width="739.7" height="1.6" fill="#e8e8e8"/>
<rect x="2158.3" y="958.9" width="739.7" height="1.6" fill="#e8e8e8"/>
<rect x="2158.3" y="1005.2" width="739.7" height="1.6" fill="#e8e8e8"/>
</g>
<rect x="2174.3" y="700.8" width="26.9" height="7.6" rx="3.8" fill="#56a64b"/>
<rect x="2174.3" y="747.2" width="26.9" height="7.6" rx="3.8" fill="#e0b400"/>
<rect x="2174.3" y="793.6" width="26.9" height="7.6" rx="3.8" fill="#3274d9"/>
<rect x="2174.3" y="840.0" width="26.9" height="7.6" rx="3.8" fill="#fa6400"/>
<rect x="2174.3" y="886.4" width="26.9" height="7.6" rx="3.8" fill="#e02f44"/>
<rect x="2174.3" y="932.8" width="26.9" height="7.6" rx="3.8" fill="#a352cc"/>
<rect x="2174.3" y="979.2" width="10.5" height="7.6" fill="#e02f44"/><rect x="2190.7" y="979.2" width="10.5" height="7.6" fill="#e02f44"/>
<defs><clipPath id="lc2"><rect x="2150" y="1015" width="760" height="10.3"/></clipPath></defs><g clip-path="url(#lc2)">
</g>
<rect x="48.9" y="1218" width="2848.6" height="1.6" fill="#e8e8e8"/>
<rect x="759.1" y="1153.7" width="1.6" height="127" fill="#e8e8e8"/>
<rect x="1471.2" y="1153.7" width="1.6" height="127" fill="#e8e8e8"/>
<rect x="2183.2" y="1153.7" width="1.6" height="127" fill="#e8e8e8"/>
<defs><linearGradient id="gl" x1="0" y1="0" x2="0" y2="1"><stop offset="0" stop-color="#f15a24"/><stop offset="0.5" stop-color="#f48b29"/><stop offset="1" stop-color="#f7c51c"/></linearGradient></defs>
<g transform="translate(2797.8 1309.6)">
<path d="M12.3 0 A12.3 12.3 0 1 0 -12.3 0 A12.3 12.3 0 1 0 12.3 0 Z M7.4 0.5 A7.4 7.4 0 1 1 -7.4 0.5 A7.4 7.4 0 1 1 7.4 0.5 Z" fill="url(#gl)" fill-rule="evenodd"/>
<path d="M-4.99 -9.80 L-2.71 -15.36 L1.34 -10.92 Z M3.40 -10.46 L8.95 -12.78 L8.67 -6.77 Z M9.80 -4.99 L15.36 -2.71 L10.92 1.34 Z M10.46 3.40 L12.78 8.95 L6.77 8.67 Z M4.99 9.80 L2.71 15.36 L-1.34 10.92 Z M-3.40 10.46 L-8.95 12.78 L-8.67 6.77 Z M-9.80 4.99 L-15.36 2.71 L-10.92 -1.34 Z M-10.46 -3.40 L-12.78 -8.95 L-6.77 -8.67 Z" fill="url(#gl)"/>
<path d="M1.2 4.6 A4.3 4.3 0 1 1 4.6 -0.5" stroke="#f07e2c" stroke-width="2.4" fill="none" stroke-linecap="round"/>
</g>
<g transform="translate(11.0 1455.9) scale(1 1.182)" style="font-family:'Liberation Mono', monospace;font-size:24px;letter-spacing:0.05px;font-weight:700"><text x="0" y="0"><tspan fill="#92e24a">SRE-Terminal</tspan><tspan fill="#d3d7cf">:</tspan><tspan fill="#729fcf">~</tspan><tspan fill="#d3d7cf" font-weight="400">$</tspan></text></g>
<rect x="245.2" y="1433.3" width="12" height="27.6" fill="none" stroke="#b8b8b8" stroke-width="2"/>
<text x="157.55" y="78.09" style="font-family:'Liberation Serif', serif;font-size:34.03px;font-weight:400;letter-spacing:5.609px" fill="#a01d24" stroke="#a01d24" stroke-width="0.61">CHAOS CHALLENGE</text>
<text x="219.49" y="161.19" style="font-family:'Liberation Serif', serif;font-size:20.58px;font-weight:400;letter-spacing:4.738px" fill="#8e1b1f" stroke="#8e1b1f" stroke-width="0.62">GRAFANA</text>
<text x="219.80" y="1393.60" style="font-family:'Liberation Serif', serif;font-size:20.15px;font-weight:400;letter-spacing:5.205px" fill="#8e1b1f" stroke="#8e1b1f" stroke-width="0.60">TTYD</text>
<text x="50.21" y="260.75" style="font-family:'Liberation Sans', sans-serif;font-size:23.10px;font-weight:400;letter-spacing:0.000px" fill="#24292e" stroke="#24292e" stroke-width="0.51" textLength="137.73" lengthAdjust="spacingAndGlyphs">Data source</text>
<text x="221.53" y="262.57" style="font-family:'Liberation Sans', sans-serif;font-size:26.80px;font-weight:400;letter-spacing:0.000px" fill="#24292e" stroke="#24292e" stroke-width="0.27" textLength="90.36" lengthAdjust="spacingAndGlyphs">default</text>
<text x="411.58" y="260.75" style="font-family:'Liberation Sans', sans-serif;font-size:23.10px;font-weight:400;letter-spacing:0.000px" fill="#24292e" stroke="#24292e" stroke-width="0.51" textLength="133.33" lengthAdjust="spacingAndGlyphs">namespace</text>
<text x="577.53" y="262.57" style="font-family:'Liberation Sans', sans-serif;font-size:26.80px;font-weight:400;letter-spacing:0.000px" fill="#24292e" stroke="#24292e" stroke-width="0.27" textLength="164.20" lengthAdjust="spacingAndGlyphs">chaos-mesh</text>
<text x="877.21" y="260.74" style="font-family:'Liberation Sans', sans-serif;font-size:23.94px;font-weight:400;letter-spacing:0.000px" fill="#24292e" stroke="#24292e" stroke-width="0.53" textLength="131.22" lengthAdjust="spacingAndGlyphs">Kubernetes</text>
<text x="2187.71" y="263.29" style="font-family:'Liberation Sans', sans-serif;font-size:28.59px;font-weight:400;letter-spacing:0.000px" fill="#24292e" stroke="#24292e" stroke-width="0.63" textLength="144.00" lengthAdjust="spacingAndGlyphs">Last 1 hour</text>
<text x="2350.82" y="259.76" style="font-family:'Liberation Sans', sans-serif;font-size:22.25px;font-weight:400;letter-spacing:0.000px" fill="#e5751c" stroke="#e5751c" stroke-width="0.49" textLength="49.91" lengthAdjust="spacingAndGlyphs">UTC</text>
<text x="2677.43" y="262.39" style="font-family:'Liberation Sans', sans-serif;font-size:27.89px;font-weight:400;letter-spacing:0.000px" fill="#24292e" stroke="#24292e" stroke-width="0.61" textLength="103.93" lengthAdjust="spacingAndGlyphs">Refresh</text>
<text x="2813.01" y="262.40" style="font-family:'Liberation Sans', sans-serif;font-size:27.50px;font-weight:400;letter-spacing:0.000px" fill="#24292e" stroke="#24292e" stroke-width="0.60" textLength="45.03" lengthAdjust="spacingAndGlyphs">10s</text>
<text x="55.91" y="368.39" style="font-family:'Liberation Sans', sans-serif;font-size:28.31px;font-weight:400;letter-spacing:0.000px" fill="#24292e" stroke="#24292e" stroke-width="0.62" textLength="413.21" lengthAdjust="spacingAndGlyphs">CPU Utilisation (from requests)</text>
<text x="284.80" y="487.41" style="font-family:'Liberation Sans', sans-serif;font-size:79.53px;font-weight:400;letter-spacing:0.000px" fill="#24292e" stroke="#24292e" stroke-width="2.39" textLength="155.31" lengthAdjust="spacingAndGlyphs">5.74</text>
<text x="447.06" y="487.45" style="font-family:'Liberation Sans', sans-serif;font-size:45.86px;font-weight:400;letter-spacing:0.000px" fill="#24292e" stroke="#24292e" stroke-width="2.29" textLength="37.85" lengthAdjust="spacingAndGlyphs">%</text>
<text x="781.61" y="368.39" style="font-family:'Liberation Sans', sans-serif;font-size:28.31px;font-weight:400;letter-spacing:0.000px" fill="#24292e" stroke="#24292e" stroke-width="0.62" textLength="366.67" lengthAdjust="spacingAndGlyphs">CPU Utilisation (from limits)</text>
<text x="964.67" y="487.39" style="font-family:'Liberation Sans', sans-serif;font-size:80.64px;font-weight:400;letter-spacing:0.000px" fill="#24292e" stroke="#24292e" stroke-width="2.42" textLength="286.32" lengthAdjust="spacingAndGlyphs">No data</text>
<text x="1505.68" y="368.39" style="font-family:'Liberation Sans', sans-serif;font-size:28.31px;font-weight:400;letter-spacing:0.000px" fill="#24292e" stroke="#24292e" stroke-width="0.62" textLength="465.28" lengthAdjust="spacingAndGlyphs">Memory Utilisation (from requests)</text>
<text x="1734.34" y="487.41" style="font-family:'Liberation Sans', sans-serif;font-size:79.53px;font-weight:400;letter-spacing:0.000px" fill="#24292e" stroke="#24292e" stroke-width="2.39" textLength="152.00" lengthAdjust="spacingAndGlyphs">12.8</text>
<text x="1892.71" y="487.45" style="font-family:'Liberation Sans', sans-serif;font-size:45.86px;font-weight:400;letter-spacing:0.000px" fill="#24292e" stroke="#24292e" stroke-width="2.29" textLength="38.94" lengthAdjust="spacingAndGlyphs">%</text>
<text x="2230.66" y="368.39" style="font-family:'Liberation Sans', sans-serif;font-size:28.31px;font-weight:400;letter-spacing:0.000px" fill="#24292e" stroke="#24292e" stroke-width="0.62" textLength="419.96" lengthAdjust="spacingAndGlyphs">Memory Utilisation (from limits)</text>
<text x="2414.67" y="487.39" style="font-family:'Liberation Sans', sans-serif;font-size:80.64px;font-weight:400;letter-spacing:0.000px" fill="#24292e" stroke="#24292e" stroke-width="2.42" textLength="286.32" lengthAdjust="spacingAndGlyphs">No data</text>
<text x="56.48" y="590.09" style="font-family:'Liberation Sans', sans-serif;font-size:28.31px;font-weight:400;letter-spacing:0.000px" fill="#24292e" stroke="#24292e" stroke-width="0.62" textLength="151.29" lengthAdjust="spacingAndGlyphs">CPU Usage</text>
<text x="131.68" y="1019.51" style="font-family:'Liberation Sans', sans-serif;font-size:22.10px;font-weight:400;letter-spacing:0.000px" fill="#24292e" stroke="#24292e" stroke-width="0.18" textLength="63.31" lengthAdjust="spacingAndGlyphs">07:45</text>
<text x="299.08" y="1019.51" style="font-family:'Liberation Sans', sans-serif;font-size:22.10px;font-weight:400;letter-spacing:0.000px" fill="#24292e" stroke="#24292e" stroke-width="0.18" textLength="63.18" lengthAdjust="spacingAndGlyphs">07:50</text>
<text x="466.48" y="1019.51" style="font-family:'Liberation Sans', sans-serif;font-size:22.10px;font-weight:400;letter-spacing:0.000px" fill="#24292e" stroke="#24292e" stroke-width="0.18" textLength="63.31" lengthAdjust="spacingAndGlyphs">07:55</text>
<text x="633.88" y="1019.51" style="font-family:'Liberation Sans', sans-serif;font-size:22.10px;font-weight:400;letter-spacing:0.000px" fill="#24292e" stroke="#24292e" stroke-width="0.18" textLength="63.18" lengthAdjust="spacingAndGlyphs">08:00</text>
<text x="801.28" y="1019.51" style="font-family:'Liberation Sans', sans-serif;font-size:22.10px;font-weight:400;letter-spacing:0.000px" fill="#24292e" stroke="#24292e" stroke-width="0.18" textLength="63.31" lengthAdjust="spacingAndGlyphs">08:05</text>
<text x="968.68" y="1019.51" style="font-family:'Liberation Sans', sans-serif;font-size:22.10px;font-weight:400;letter-spacing:0.000px" fill="#24292e" stroke="#24292e" stroke-width="0.18" textLength="63.18" lengthAdjust="spacingAndGlyphs">08:10</text>
<text x="1136.08" y="1019.51" style="font-family:'Liberation Sans', sans-serif;font-size:22.10px;font-weight:400;letter-spacing:0.000px" fill="#24292e" stroke="#24292e" stroke-width="0.18" textLength="63.31" lengthAdjust="spacingAndGlyphs">08:15</text>
<text x="1303.48" y="1019.51" style="font-family:'Liberation Sans', sans-serif;font-size:22.10px;font-weight:400;letter-spacing:0.000px" fill="#24292e" stroke="#24292e" stroke-width="0.18" textLength="63.18" lengthAdjust="spacingAndGlyphs">08:20</text>
<text x="1470.88" y="1019.51" style="font-family:'Liberation Sans', sans-serif;font-size:22.10px;font-weight:400;letter-spacing:0.000px" fill="#24292e" stroke="#24292e" stroke-width="0.18" textLength="63.31" lengthAdjust="spacingAndGlyphs">08:25</text>
<text x="1638.28" y="1019.51" style="font-family:'Liberation Sans', sans-serif;font-size:22.10px;font-weight:400;letter-spacing:0.000px" fill="#24292e" stroke="#24292e" stroke-width="0.18" textLength="63.18" lengthAdjust="spacingAndGlyphs">08:30</text>
<text x="1805.68" y="1019.51" style="font-family:'Liberation Sans', sans-serif;font-size:22.10px;font-weight:400;letter-spacing:0.000px" fill="#24292e" stroke="#24292e" stroke-width="0.18" textLength="63.31" lengthAdjust="spacingAndGlyphs">08:35</text>
<text x="1973.08" y="1019.51" style="font-family:'Liberation Sans', sans-serif;font-size:22.10px;font-weight:400;letter-spacing:0.000px" fill="#24292e" stroke="#24292e" stroke-width="0.18" textLength="63.18" lengthAdjust="spacingAndGlyphs">08:40</text>
<text x="56.86" y="760.71" style="font-family:'Liberation Sans', sans-serif;font-size:22.10px;font-weight:400;letter-spacing:0.000px" fill="#24292e" stroke="#24292e" stroke-width="0.18" textLength="64.56" lengthAdjust="spacingAndGlyphs">0.004</text>
<text x="56.85" y="875.31" style="font-family:'Liberation Sans', sans-serif;font-size:22.10px;font-weight:400;letter-spacing:0.000px" fill="#24292e" stroke="#24292e" stroke-width="0.18" textLength="65.10" lengthAdjust="spacingAndGlyphs">0.002</text>
<text x="107.80" y="989.91" style="font-family:'Liberation Sans', sans-serif;font-size:22.24px;font-weight:400;letter-spacing:0.000px" fill="#24292e" stroke="#24292e" stroke-width="0.18" textLength="13.81" lengthAdjust="spacingAndGlyphs">0</text>
<text x="2215.65" y="665.53" style="font-family:'Liberation Sans', sans-serif;font-size:24.23px;font-weight:400;letter-spacing:0.000px" fill="#1f62e0" stroke="#1f62e0" stroke-width="0.53" textLength="67.36" lengthAdjust="spacingAndGlyphs">Name</text>
<text x="2813.95" y="665.53" style="font-family:'Liberation Sans', sans-serif;font-size:24.23px;font-weight:400;letter-spacing:0.000px" fill="#1f62e0" stroke="#1f62e0" stroke-width="0.53" textLength="67.64" lengthAdjust="spacingAndGlyphs">Last *</text>
<text x="2216.49" y="711.96" style="font-family:'Liberation Sans', sans-serif;font-size:23.47px;font-weight:400;letter-spacing:0.000px" fill="#24292e" stroke="#24292e" stroke-width="0.28" textLength="519.31" lengthAdjust="spacingAndGlyphs">chaos-controller-manager-7458c6fb54-7g9fb</text>
<text x="2786.59" y="711.95" style="font-family:'Liberation Sans', sans-serif;font-size:24.93px;font-weight:400;letter-spacing:0.000px" fill="#24292e" stroke="#24292e" stroke-width="0.30" textLength="95.85" lengthAdjust="spacingAndGlyphs">0.00426</text>
<text x="2216.49" y="758.36" style="font-family:'Liberation Sans', sans-serif;font-size:23.47px;font-weight:400;letter-spacing:0.000px" fill="#24292e" stroke="#24292e" stroke-width="0.28" textLength="523.78" lengthAdjust="spacingAndGlyphs">chaos-controller-manager-7458c6fb54-pc4ss</text>
<text x="2792.15" y="758.35" style="font-family:'Liberation Sans', sans-serif;font-size:24.93px;font-weight:400;letter-spacing:0.000px" fill="#24292e" stroke="#24292e" stroke-width="0.30" textLength="90.22" lengthAdjust="spacingAndGlyphs">0.00106</text>
<text x="2216.49" y="804.76" style="font-family:'Liberation Sans', sans-serif;font-size:23.47px;font-weight:400;letter-spacing:0.000px" fill="#24292e" stroke="#24292e" stroke-width="0.28" textLength="525.18" lengthAdjust="spacingAndGlyphs">chaos-controller-manager-7458c6fb54-wf5bz</text>
<text x="2774.62" y="804.75" style="font-family:'Liberation Sans', sans-serif;font-size:24.93px;font-weight:400;letter-spacing:0.000px" fill="#24292e" stroke="#24292e" stroke-width="0.30" textLength="107.69" lengthAdjust="spacingAndGlyphs">0.000765</text>
<text x="2216.50" y="851.16" style="font-family:'Liberation Sans', sans-serif;font-size:23.47px;font-weight:400;letter-spacing:0.000px" fill="#24292e" stroke="#24292e" stroke-width="0.28" textLength="243.23" lengthAdjust="spacingAndGlyphs">chaos-daemon-tqbxs</text>
<text x="2781.79" y="851.15" style="font-family:'Liberation Sans', sans-serif;font-size:24.93px;font-weight:400;letter-spacing:0.000px" fill="#24292e" stroke="#24292e" stroke-width="0.30" textLength="100.57" lengthAdjust="spacingAndGlyphs">0.000161</text>
<text x="2216.49" y="897.56" style="font-family:'Liberation Sans', sans-serif;font-size:23.47px;font-weight:400;letter-spacing:0.000px" fill="#24292e" stroke="#24292e" stroke-width="0.28" textLength="431.67" lengthAdjust="spacingAndGlyphs">chaos-dashboard-5b77585c6c-gcdck</text>
<text x="2786.59" y="897.55" style="font-family:'Liberation Sans', sans-serif;font-size:24.93px;font-weight:400;letter-spacing:0.000px" fill="#24292e" stroke="#24292e" stroke-width="0.30" textLength="95.85" lengthAdjust="spacingAndGlyphs">0.00246</text>
<text x="2216.49" y="943.96" style="font-family:'Liberation Sans', sans-serif;font-size:23.47px;font-weight:400;letter-spacing:0.000px" fill="#24292e" stroke="#24292e" stroke-width="0.28" textLength="450.95" lengthAdjust="spacingAndGlyphs">chaos-dns-server-6bccb5bb76-cmqnm</text>
<text x="2786.59" y="943.95" style="font-family:'Liberation Sans', sans-serif;font-size:24.93px;font-weight:400;letter-spacing:0.000px" fill="#24292e" stroke="#24292e" stroke-width="0.30" textLength="95.85" lengthAdjust="spacingAndGlyphs">0.00289</text>
<text x="2216.51" y="990.36" style="font-family:'Liberation Sans', sans-serif;font-size:23.47px;font-weight:400;letter-spacing:0.000px" fill="#24292e" stroke="#24292e" stroke-width="0.28" textLength="186.29" lengthAdjust="spacingAndGlyphs">quota - requests</text>
<text x="56.59" y="1108.90" style="font-family:'Liberation Sans', sans-serif;font-size:27.04px;font-weight:400;letter-spacing:0.000px" fill="#24292e" stroke="#24292e" stroke-width="0.59" textLength="144.37" lengthAdjust="spacingAndGlyphs">CPU Quota</text>
<text x="59.44" y="1196.21" style="font-family:'Liberation Sans', sans-serif;font-size:26.76px;font-weight:400;letter-spacing:0.000px" fill="#5b5e63" stroke="#5b5e63" stroke-width="0.59" textLength="52.36" lengthAdjust="spacingAndGlyphs">Pod</text>
<text x="1308.47" y="1196.21" style="font-family:'Liberation Sans', sans-serif;font-size:26.76px;font-weight:400;letter-spacing:0.000px" fill="#5b5e63" stroke="#5b5e63" stroke-width="0.59" textLength="150.92" lengthAdjust="spacingAndGlyphs">CPU Usage</text>
<text x="1982.16" y="1196.21" style="font-family:'Liberation Sans', sans-serif;font-size:26.76px;font-weight:400;letter-spacing:0.000px" fill="#5b5e63" stroke="#5b5e63" stroke-width="0.59" textLength="189.21" lengthAdjust="spacingAndGlyphs">CPU Requests</text>
<text x="2660.85" y="1196.21" style="font-family:'Liberation Sans', sans-serif;font-size:26.76px;font-weight:400;letter-spacing:0.000px" fill="#5b5e63" stroke="#5b5e63" stroke-width="0.59" textLength="224.08" lengthAdjust="spacingAndGlyphs">CPU Requests %</text>
<text x="60.29" y="1263.10" style="font-family:'Liberation Sans', sans-serif;font-size:27.04px;font-weight:400;letter-spacing:0.000px" fill="#1f62e0" stroke="#1f62e0" stroke-width="0.59" textLength="282.83" lengthAdjust="spacingAndGlyphs">chaos-daemon-tqbxs</text>
<text x="1337.74" y="1263.40" style="font-family:'Liberation Sans', sans-serif;font-size:27.64px;font-weight:400;letter-spacing:0.000px" fill="#24292e" stroke="#24292e" stroke-width="0.61" textLength="120.94" lengthAdjust="spacingAndGlyphs">0.000155</text>
<text x="2619.67" y="1318.99" style="font-family:'Liberation Sans', sans-serif;font-size:27.89px;font-weight:400;letter-spacing:0.000px" fill="#5c5f64" stroke="#5c5f64" stroke-width="0.61" textLength="153.94" lengthAdjust="spacingAndGlyphs">Powered by</text>
<text x="2816.63" y="1319.71" style="font-family:'Liberation Sans', sans-serif;font-size:26.76px;font-weight:400;letter-spacing:0.000px" fill="#3a3c40" stroke="#3a3c40" stroke-width="0.59" textLength="98.83" lengthAdjust="spacingAndGlyphs">Grafana</text>
<g clip-path="url(#lc2)"><text x="2216.73" y="1036.65" style="font-family:'Liberation Sans', sans-serif;font-size:23.16px;font-weight:400;letter-spacing:0.000px" fill="#24292e" stroke="#24292e" stroke-width="0.51">quota - limits</text></g>
</svg>
</body></html>
